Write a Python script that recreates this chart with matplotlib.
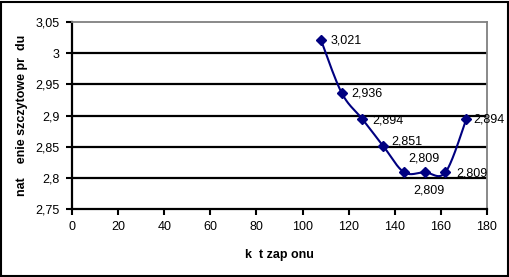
import numpy as np
import matplotlib.pyplot as plt
from matplotlib.patches import Rectangle
from matplotlib.ticker import FuncFormatter

plt.rcParams["font.family"] = ["Liberation Sans", "DejaVu Sans"]

# kąt zapłonu vs natężenie szczytowe prądu
angles = [108, 117, 126, 135, 144, 153, 162, 171]
currents = [3.021, 2.936, 2.894, 2.851, 2.809, 2.809, 2.809, 2.894]
# label offsets in points (dx, dy)
label_offsets = [(7, 0), (7, 0), (7, -1), (6, 3), (3, 10), (-8, -13), (8, -1), (5, 0)]

x_ticks = list(range(0, 181, 20))
y_ticks = [2.75, 2.8, 2.85, 2.9, 2.95, 3.0, 3.05]

LINE_COLOR = "#000080"


def comma(v, _pos=None):
    s = f"{v:.3f}".rstrip("0").rstrip(".")
    return s.replace(".", ",")


def smooth_curve(xs, ys, steps=30):
    # Excel-style smoothed line: cubic Bezier with Catmull-Rom control points
    pts = np.column_stack([xs, ys]).astype(float)
    n = len(pts)
    out = [pts[0]]
    for i in range(n - 1):
        p0 = pts[i - 1] if i > 0 else pts[i]
        p1 = pts[i]
        p2 = pts[i + 1]
        p3 = pts[i + 2] if i + 2 < n else pts[i + 1]
        c1 = p1 + (p2 - p0) / 6.0
        c2 = p2 - (p3 - p1) / 6.0
        t = np.linspace(0, 1, steps)[1:, None]
        seg = ((1 - t) ** 3) * p1 + 3 * ((1 - t) ** 2) * t * c1 + 3 * (1 - t) * t ** 2 * c2 + t ** 3 * p2
        out.extend(seg)
    out = np.array(out)
    return out[:, 0], out[:, 1]


fig = plt.figure(figsize=(5.1, 2.77), dpi=100)
ax = fig.add_axes([72 / 510, 1 - 209 / 277, 415 / 510, 187 / 277])

for yv in y_ticks[1:-1]:
    ax.axhline(yv, color="black", linewidth=1.6, zorder=1)

sx, sy = smooth_curve(angles, currents)
ax.plot(sx, sy, color=LINE_COLOR, linewidth=1.5, zorder=3)
ax.plot(angles, currents, linestyle="none", marker="D", markersize=5,
        color=LINE_COLOR, zorder=4)

for xv, yv, (dx, dy) in zip(angles, currents, label_offsets):
    ax.annotate(comma(yv), (xv, yv), xytext=(dx, dy), textcoords="offset points",
                ha="left", va="center", fontsize=9, zorder=5)

ax.set_xlim(0, 180)
ax.set_ylim(2.75, 3.05)
ax.set_xticks(x_ticks)
ax.set_yticks(y_ticks)
ax.xaxis.set_major_formatter(FuncFormatter(comma))
ax.yaxis.set_major_formatter(FuncFormatter(comma))
ax.tick_params(axis="both", labelsize=9, direction="out", length=4, width=1.5, pad=5)

for side in ("left", "bottom"):
    ax.spines[side].set_color("black")
    ax.spines[side].set_linewidth(1.6)
for side in ("top", "right"):
    ax.spines[side].set_color("#808080")
    ax.spines[side].set_linewidth(1.3)

ax.set_xlabel("k  t zap onu", fontsize=9, fontweight="bold", labelpad=11)
ax.set_ylabel("nat    enie szczytowe pr  du", fontsize=9, fontweight="bold", labelpad=5)

fig.patches.append(Rectangle((0.002, 0.004), 0.994, 0.99, transform=fig.transFigure,
                             fill=False, edgecolor="black", linewidth=1.5))

fig.savefig("out.png", dpi=100)
